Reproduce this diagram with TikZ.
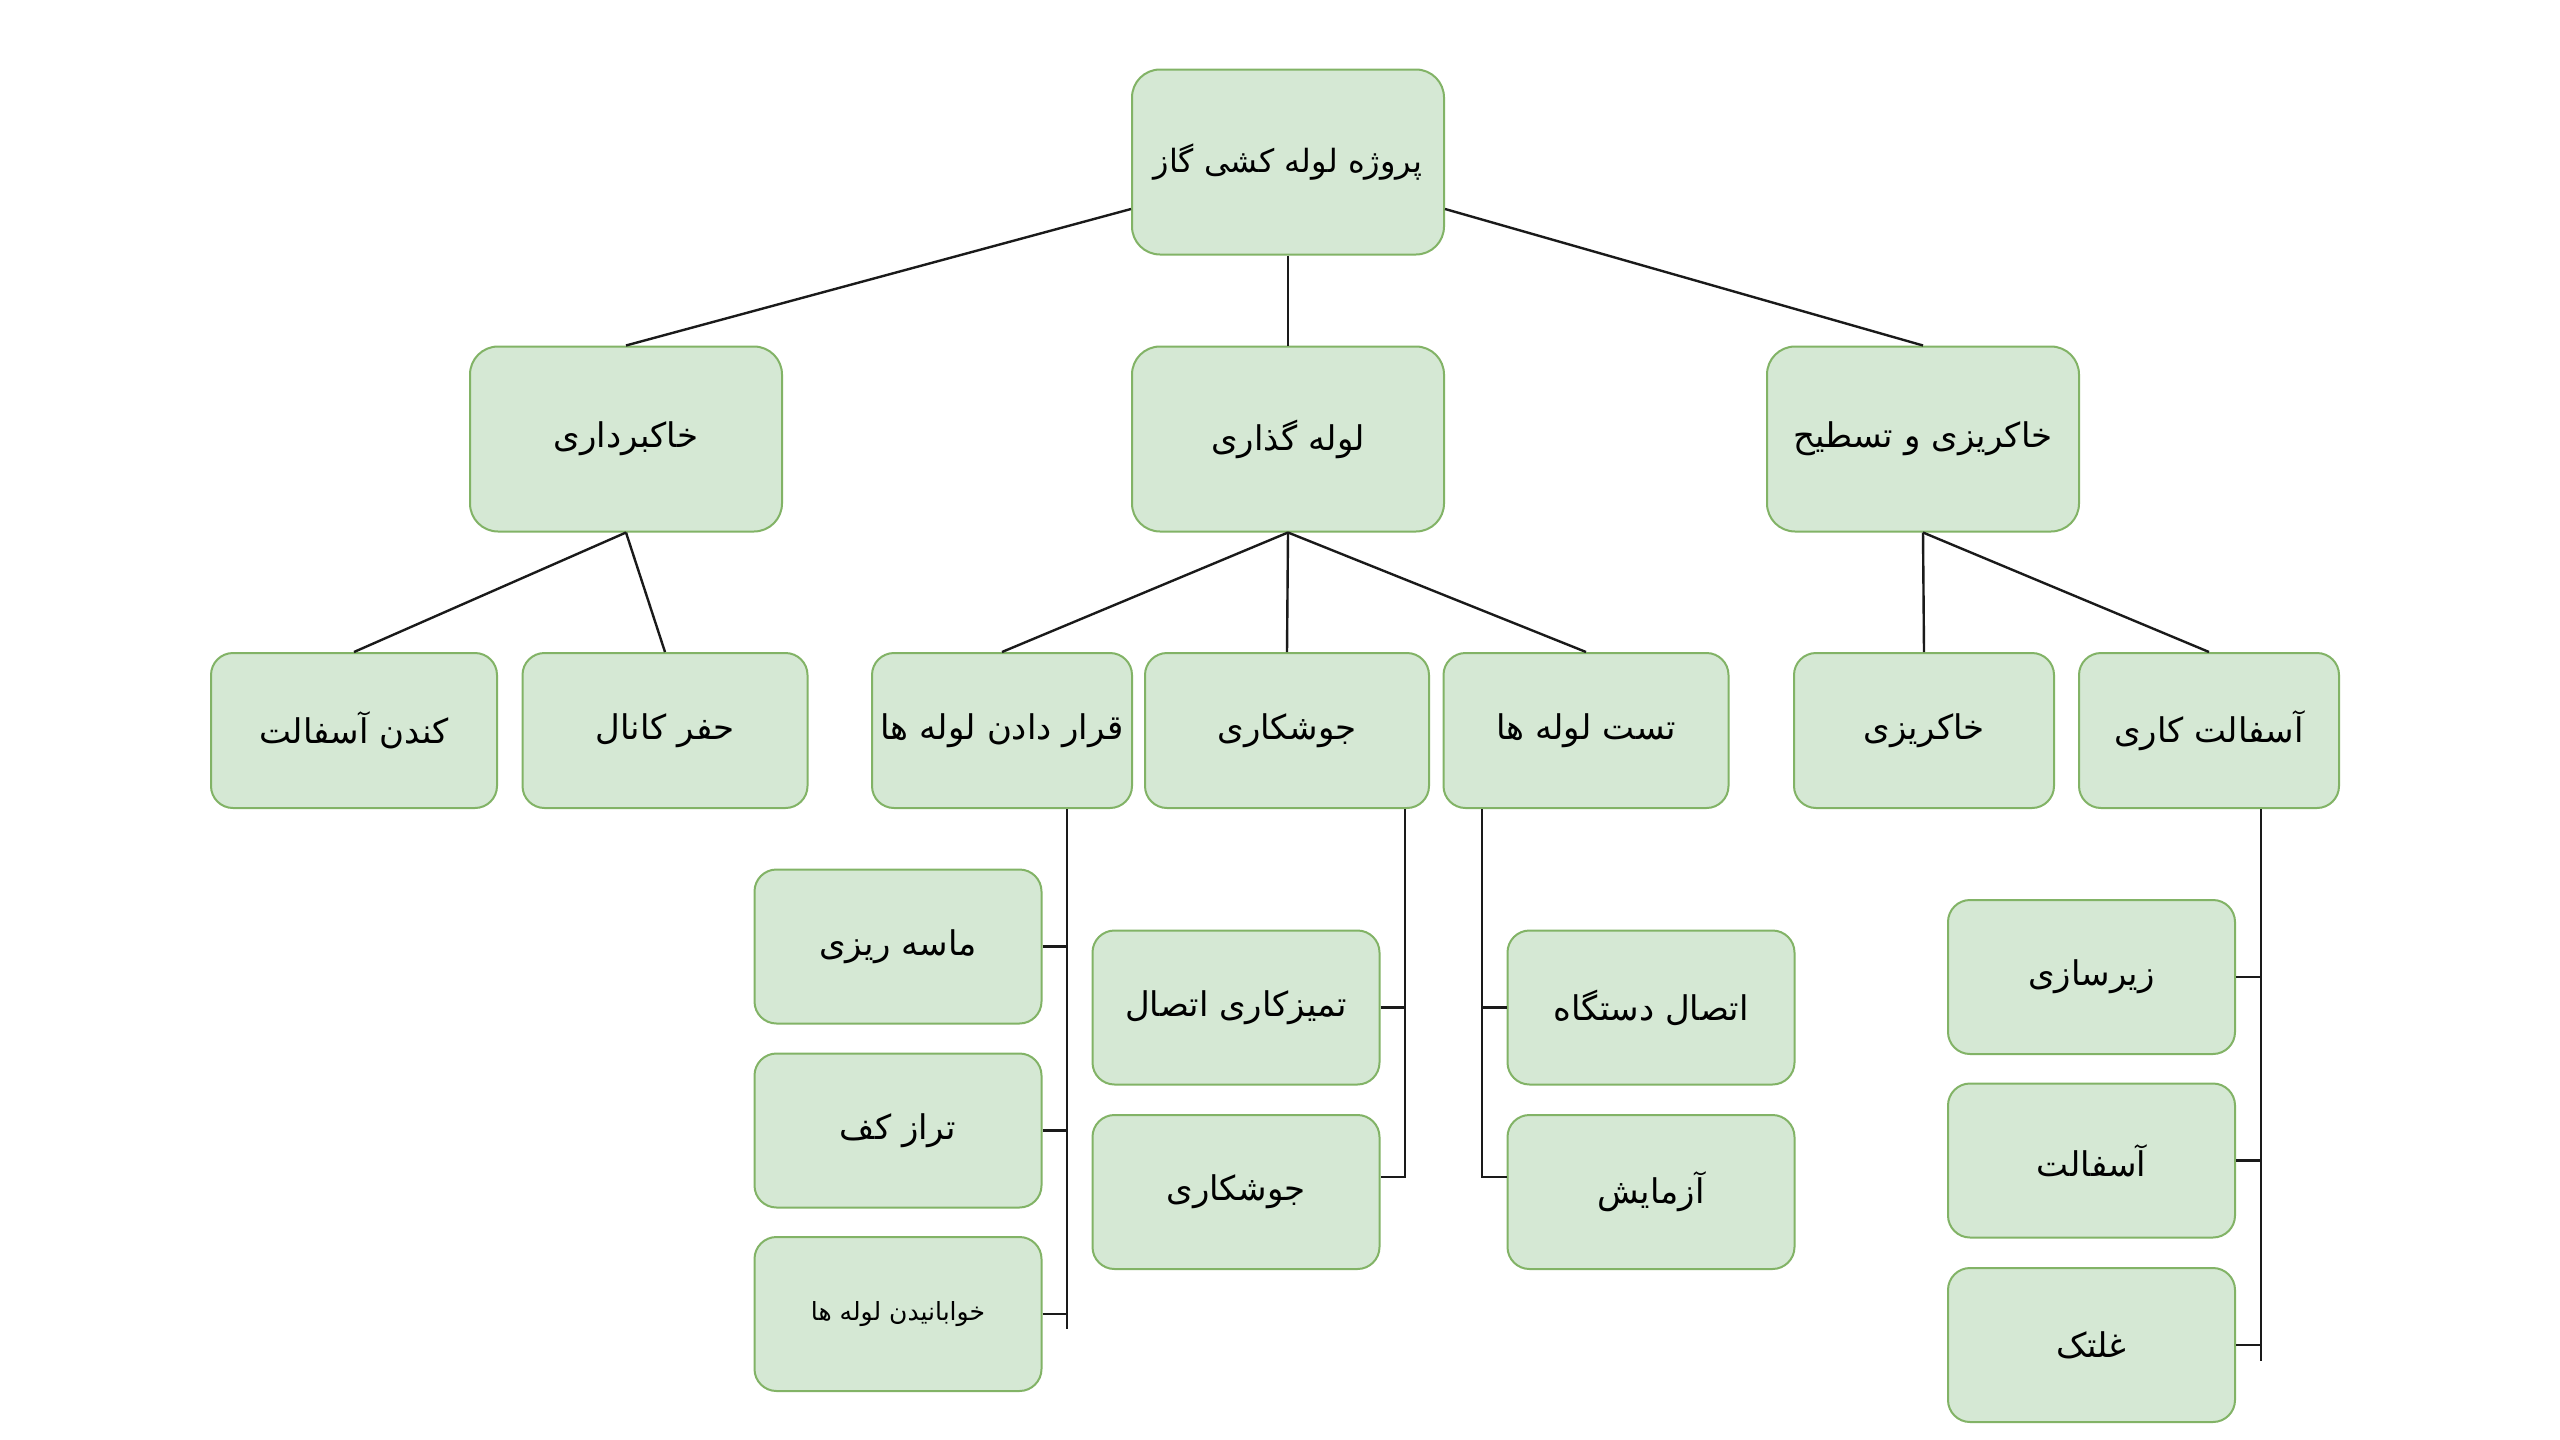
\documentclass[tikz,border=0pt]{standalone}
\usepackage{fontspec}
\newfontfamily\arabicfont[Script=Arabic]{DejaVu Sans}
\TeXXeTstate=1
\usetikzlibrary{calc}
\definecolor{boxfill}{HTML}{D5E8D4}
\definecolor{boxdraw}{HTML}{82B366}
\definecolor{linecol}{HTML}{1A1A1A}
\newcommand{\fatext}[1]{{\arabicfont\beginR #1\endR}}
\tikzset{
  basebox/.style={draw=boxdraw, fill=boxfill, line width=2pt, align=center, inner sep=0pt,
    font=\fontsize{34}{40}\selectfont},
  topbox/.style={basebox, rounded corners=28pt, minimum width=312pt, minimum height=185pt},
  midbox/.style={basebox, rounded corners=22pt, minimum height=155pt},
  subbox/.style={basebox, rounded corners=22pt, minimum width=287pt, minimum height=154pt},
  conn/.style={draw=linecol, line width=2.4pt}
}
\begin{document}
\begin{tikzpicture}[x=1pt,y=-1pt]
\useasboundingbox (0,0) rectangle (2560,1440);
\fill[white] (0,0) rectangle (2560,1440);

% level 0
\node[topbox, font=\fontsize{32}{38}\selectfont] (root) at (1288,162) {\fatext{پروژه لوله کشی گاز}};
% level 1
\node[topbox] (kb) at (626,439) {\fatext{خاکبرداری}};
\node[topbox] (lg) at (1288,439) {\fatext{لوله گذاری}};
\node[topbox] (kt) at (1923,439) {\fatext{خاکریزی و تسطیح}};
% level 2
\node[midbox, minimum width=286pt] (ka) at (354,730.5) {\fatext{کندن آسفالت}};
\node[midbox, minimum width=285pt] (hk) at (665,730.5) {\fatext{حفر کانال}};
\node[midbox, minimum width=260pt] (qd) at (1002,730.5) {\fatext{قرار دادن لوله ها}};
\node[midbox, minimum width=284pt] (js) at (1287,730.5) {\fatext{جوشکاری}};
\node[midbox, minimum width=285pt] (tl) at (1586,730.5) {\fatext{تست لوله ها}};
\node[midbox, minimum width=260pt] (kr) at (1924,730.5) {\fatext{خاکریزی}};
\node[midbox, minimum width=260pt] (ak) at (2209,730.5) {\fatext{آسفالت کاری}};
% level 3
\node[subbox] (ms) at (898,946.5) {\fatext{ماسه ریزی}};
\node[subbox] (tk) at (898,1130.5) {\fatext{تراز کف}};
\node[subbox, font=\fontsize{25}{30}\selectfont] (kh) at (898,1314) {\fatext{خوابانیدن لوله ها}};
\node[subbox] (te) at (1236,1007.5) {\fatext{تمیزکاری اتصال}};
\node[subbox] (js2) at (1236,1192) {\fatext{جوشکاری}};
\node[subbox] (ed) at (1651,1007.5) {\fatext{اتصال دستگاه}};
\node[subbox] (az) at (1651,1192) {\fatext{آزمایش}};
\node[subbox] (zs) at (2091.5,977) {\fatext{زیرسازی}};
\node[subbox] (as) at (2091.5,1160.5) {\fatext{آسفالت}};
\node[subbox] (gh) at (2091.5,1345) {\fatext{غلتک}};

% connectors level 0 -> 1
\draw[conn] ($(root.west)+(0,47)$) -- (kb.north);
\draw[conn] (root.south) -- (lg.north);
\draw[conn] ($(root.east)+(0,47)$) -- (kt.north);
% level 1 -> 2
\draw[conn] (kb.south) -- (ka.north);
\draw[conn] (kb.south) -- (hk.north);
\draw[conn] (lg.south) -- (qd.north);
\draw[conn] (lg.south) -- (js.north);
\draw[conn] (lg.south) -- (tl.north);
\draw[conn] (kt.south) -- (kr.north);
\draw[conn] (kt.south) -- (ak.north);
% level 2 -> 3 buses
\coordinate (qdbus) at ($(qd.south)+(65,0)$);
\coordinate (qdend) at ($(qdbus |- kh.east)+(0,15)$);
\draw[conn] (qdbus) -- (qdend);
\draw[conn] (ms.east) -- (ms.east -| qdbus);
\draw[conn] (tk.east) -- (tk.east -| qdbus);
\draw[conn] (kh.east) -- (kh.east -| qdbus);

\coordinate (jsbus) at ($(js.south)+(118,0)$);
\coordinate (jstick) at ($(js2.east)+(0,-15)$);
\draw[conn] (jsbus) -- (jsbus |- jstick) -- (jstick);
\draw[conn] (te.east) -- (te.east -| jsbus);

\coordinate (tlbus) at ($(tl.south)+(-104,0)$);
\coordinate (aztick) at ($(az.west)+(0,-15)$);
\draw[conn] (tlbus) -- (tlbus |- aztick) -- (aztick);
\draw[conn] (ed.west) -- (ed.west -| tlbus);

\coordinate (akbus) at ($(ak.south)+(52,0)$);
\coordinate (akend) at ($(akbus |- gh.east)+(0,16)$);
\draw[conn] (akbus) -- (akend);
\draw[conn] (zs.east) -- (zs.east -| akbus);
\draw[conn] (as.east) -- (as.east -| akbus);
\draw[conn] (gh.east) -- (gh.east -| akbus);
\end{tikzpicture}
\end{document}
